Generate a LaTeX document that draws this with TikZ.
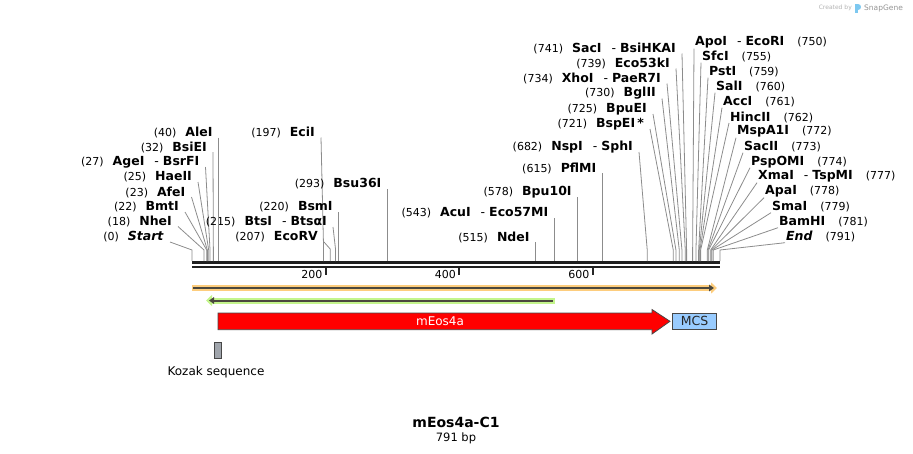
\documentclass[tikz,border=0pt]{standalone}
\usepackage{fontspec}
\setmainfont{DejaVu Sans}
\usetikzlibrary{positioning,arrows.meta}

\definecolor{leadgray}{RGB}{140,140,140}
\definecolor{orfhigh}{RGB}{253,205,125}
\definecolor{orfline}{RGB}{75,72,62}
\definecolor{primhigh}{RGB}{196,245,140}
\definecolor{mcsblue}{RGB}{153,204,255}
\definecolor{kozakgray}{RGB}{160,165,172}
\definecolor{snapblue}{RGB}{125,200,240}
\newcommand{\namefont}{\fontsize{12.5}{14}\selectfont\bfseries}
\newcommand{\isodash}{\hspace{10pt}\textmd{-}\hspace{4pt}}

\begin{document}
\begin{tikzpicture}[x=1pt,y=-1pt]
        % Define styles
        \tikzset{
            enzyme/.style={font=\fontsize{11}{13}\selectfont, inner sep=0pt},
            leader/.style={draw=leadgray, line width=0.8pt},
            backbone/.style={draw=black!88, line width=2.6pt},
            ticklabel/.style={font=\fontsize{11}{13}\selectfont, inner sep=0pt},
            featlabel/.style={font=\fontsize{12}{14}\selectfont, inner sep=0pt},
            outline/.style={draw=black!72, line width=0.8pt}
        }
        \useasboundingbox (0,0) rectangle (913,453);
        % Draw the backbone
        \coordinate (b0) at (192,262.4);
        \coordinate (b1) at (720,262.4);
        \draw[backbone] (b0) -- (b1);
        \draw[backbone, line width=2.2pt] ([yshift=-4.3pt]b0) -- ([yshift=-4.3pt]b1);
        % Ticks below the backbone
        \foreach \t in {200,400,600} {
            \coordinate (T\t) at ({192+\t*0.6675},268);
            \draw[black!85, line width=2pt] (T\t) -- ++(0,7);
            \node[ticklabel, anchor=east] (TL\t) at ([shift={(-3,6)}]T\t) {\t};
        }
        % Sites with a bent leader, labels to the left
        \foreach \p/\ly/\lx/\ky/\nm [count=\i] in {
            0/237/164/250/{\textit{Start}},
            18/221.5/172/250/NheI,
            22/207/179/250/BmtI,
            23/192/185.5/250/AfeI,
            25/177/192/250/HaeII,
            27/162/199.5/250/{AgeI\isodash BsrFI},
            32/147/207/250/BsiEI,
            197/132.5/315/245/EciI,
            207/237/318/249/EcoRV,
            215/222/327/249/{BtsI\isodash BtsαI},
            682/147/633/250/{NspI\isodash SphI},
            721/124/644/250/{BspEI\,*},
            725/109/647/250/BpuEI,
            730/93.5/656/250/BglII,
            734/78.5/661/250/{XhoI\isodash PaeR7I},
            739/63.5/670/250/Eco53kI,
            741/48.5/676/250/{SacI\isodash BsiHKAI}} {
            \node[enzyme, anchor=east] (L\i) at (\lx,\ly) {(\p)\hspace{9pt}{\namefont\nm}};
            \coordinate (LK\i) at ({192+\p*0.6675},\ky);
            \coordinate (LS\i) at ({192+\p*0.6675},261);
            \draw[leader] ([shift={(6,5)}]L\i.east) -- (LK\i) -- (LS\i);
        }
        % Sites with a straight leader
        \foreach \p/\ly/\nm [count=\i] in {
            40/132.5/AleI,
            220/207/BsmI,
            293/184/Bsu36I,
            515/237/NdeI,
            543/213/{AcuI\isodash Eco57MI},
            578/192/Bpu10I,
            615/168/PflMI} {
            \node[enzyme, anchor=east] (V\i) at ({186+\p*0.6675},\ly) {(\p)\hspace{9pt}{\namefont\nm}};
            \coordinate (VS\i) at ({192+\p*0.6675},261);
            \draw[leader] ([shift={(6,5)}]V\i.east) -- (VS\i);
        }
        % Sites in the MCS, labels to the right
        \foreach \p/\ly/\nm [count=\i] in {
            750/42.7/{ApoI\isodash EcoRI},
            755/56.7/SfcI,
            759/71.7/PstI,
            760/86.7/SalI,
            761/101.7/AccI,
            762/117/HincII,
            772/131.7/MspA1I,
            773/146.7/SacII,
            774/161.7/PspOMI,
            777/176.7/{XmaI\isodash TspMI},
            778/191.7/ApaI,
            779/206.7/SmaI,
            781/221.7/BamHI,
            791/236.7/{\textit{End}}} {
            \node[enzyme, anchor=west] (R\i) at ({688+7*\i},\ly) {{\namefont\nm}\hspace{13pt}(\p)};
            \coordinate (RK\i) at ({192+\p*0.6675},250);
            \coordinate (RS\i) at ({192+\p*0.6675},261);
            \draw[leader] ([shift={(-1,6)}]R\i.west) -- (RK\i) -- (RS\i);
        }
        % ORF arrow
        \coordinate (orf0) at (192,288);
        \coordinate (orf1) at (717,288);
        \draw[orfhigh, line width=6pt, -{Triangle[length=6pt,width=11pt]}] (orf0) -- (orf1);
        \draw[orfline, line width=2pt, -{Triangle[length=5pt,width=6.5pt]}] ([xshift=1pt]orf0) -- ([xshift=-3pt]orf1);
        % Reverse arrow
        \coordinate (rev0) at (555,300.5);
        \coordinate (rev1) at (206,300.5);
        \draw[primhigh, line width=6pt, -{Triangle[length=6pt,width=11pt]}] (rev0) -- (rev1);
        \draw[orfline, line width=2pt, -{Triangle[length=5pt,width=6.5pt]}] ([xshift=-2.3pt]rev0) -- ([xshift=3pt]rev1);
        % mEos4a feature and MCS
        \draw[outline, fill=red] (218,313) -- (652,313) -- (652,309.5) -- (670,321.3)
            -- (652,334) -- (652,329.7) -- (218,329.7) -- cycle;
        \node[featlabel, text=white] (meos) at (440,321.3) {mEos4a};
        \node[outline, fill=mcsblue, minimum width=44.4pt, minimum height=16.7pt,
            featlabel, font=\fontsize{12.5}{14}\selectfont, text=black!85] (mcs) at (694.5,321.3) {MCS};
        % Kozak sequence
        \node[outline, fill=kozakgray, minimum width=7.4pt, minimum height=15.7pt,
            inner sep=0pt] (kozak) at (218,350.2) {};
        \node[featlabel, below=8pt of kozak, xshift=-2pt] (kozaklbl) {Kozak sequence};
        % Title
        \node[font=\fontsize{14}{16}\selectfont\bfseries, inner sep=0pt] (title) at (456,422) {mEos4a-C1};
        \node[font=\fontsize{11.5}{13}\selectfont, inner sep=0pt, below=5pt of title] (size) {791 bp};
        % Credit
        \node[font=\fontsize{6}{7}\selectfont, text=black!30, inner sep=0pt, anchor=east] (credit) at (852,8) {Created by};
        \fill[snapblue] (855,3.5) rectangle (858,13);
        \fill[snapblue] (858,3.5) .. controls (862,3.5) and (862,9.5) .. (858,9.5) -- cycle;
        \node[font=\fontsize{7.5}{9}\selectfont, text=black!42, inner sep=0pt, anchor=west] (brand) at (864,8) {SnapGene};
    \end{tikzpicture}
\end{document}
